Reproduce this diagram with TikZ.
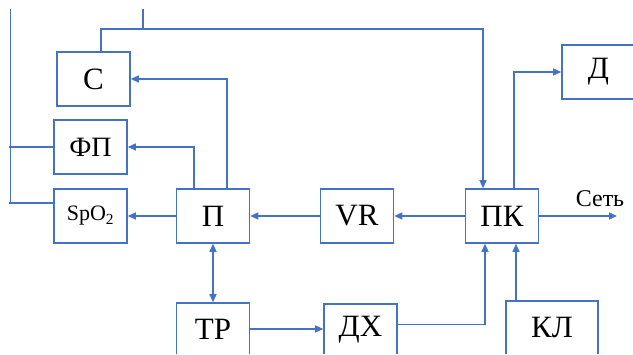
\documentclass[tikz,border=0pt]{standalone}
\usepackage{fontspec}
\setmainfont{Liberation Serif}
\usetikzlibrary{arrows.meta,calc}
\definecolor{ln}{HTML}{4472C4}
\tikzset{
  blk/.style={draw=ln,line width=1.6pt,minimum width=73pt,minimum height=54pt,inner sep=0pt,font=\fontsize{31}{31}\selectfont},
  wire/.style={draw=ln,line width=1.3pt},
  arr/.style={wire,-{Triangle[length=8pt,width=7pt]}},
  darr/.style={wire,{Triangle[length=8pt,width=7pt]}-{Triangle[length=8pt,width=7pt]}}
}
\begin{document}
\begin{tikzpicture}[x=1pt,y=-1pt]
\useasboundingbox (0,0) rectangle (633,355);
\clip (0,0) rectangle (633,354);
\node[blk] (C) at (93.5,79) {С};
\node[blk,font=\fontsize{28}{28}\selectfont] (FP) at (90.5,147) {ФП};
\node[blk,font=\fontsize{22}{22}\selectfont] (S) at (90.5,216) {SpO\textsubscript{2}};
\node[blk] (P) at (213,216) {П};
\node[blk,minimum height=52pt] (TR) at (213,329) {ТР};
\node[blk] (VR) at (357,216) {VR};
\node[blk] (PK) at (502,216) {ПК};
\node[blk,minimum height=52pt] (DX) at (360.5,330) {ДХ};
\node[blk,minimum width=92pt,minimum height=54pt] (KL) at (552,328) {КЛ};
\node[blk,font=\fontsize{31}{31}\selectfont] (D) at (598.5,72) {Д};
\coordinate (lt) at (10.5,9);
\coordinate (lb) at (10.5,203);
\coordinate (ls) at (9,203);
\coordinate (lf) at (9,147);
\coordinate (tt) at (143,9);
\coordinate (tj) at (143,29);
\coordinate (net) at (617,216);
\node[font=\fontsize{24}{24}\selectfont] (netlbl) at (600,199) {Сеть};
% left bus
\draw[wire] (lt) -- (lb);
\draw[wire] (ls) -- (S.west |- ls);
\draw[wire] (lf) -- (FP.west);
% top bus
\draw[wire] (tt) -- (tj);
\draw[arr] ([xshift=7.5]C.north) |- ([xshift=-19]PK.north |- tj) -- ([xshift=-19]PK.north);
% P to C and FP
\draw[arr] ([xshift=14]P.north) |- (C.east);
\draw[arr] ([xshift=-19]P.north) |- (FP.east);
\draw[arr] (P.west) -- (S.east);
\draw[arr] (VR.west) -- (P.east);
\draw[arr] (PK.west) -- (VR.east);
\draw[arr] (PK.east) -- (net);
\draw[darr] (P.south) -- (TR.north);
\draw[arr] (TR.east) -- (DX.west |- TR.east);
\draw[arr] ($(DX.north east)+(0,21)$) -| ([xshift=-17]PK.south);
\draw[arr] ([xshift=-36]KL.north) -- ([xshift=-36]KL.north |- PK.south);
\draw[arr] ([xshift=12]PK.north) |- (D.west);
\end{tikzpicture}
\end{document}
